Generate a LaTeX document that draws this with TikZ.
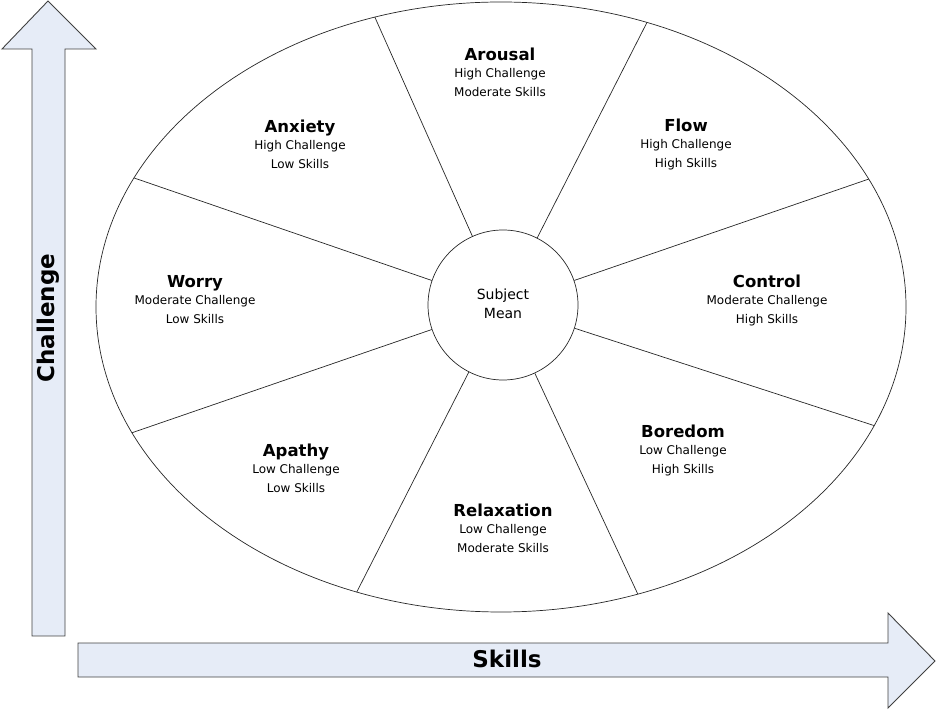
\documentclass[tikz,border=0pt]{standalone}
\usepackage{fontspec}
\setmainfont{DejaVu Sans}
\usepackage{xcolor}
\usepackage{tikz}
\usetikzlibrary{positioning}
\definecolor{arrowfill}{RGB}{230,236,247}
\newcommand{\zonetitle}[1]{{\fontsize{16.5}{19}\selectfont\bfseries #1}\\[-2pt]}

\begin{document}
\begin{tikzpicture}[
  x=1pt,y=1pt,
  bigarrow/.style={draw=black!75, fill=arrowfill, line width=0.9pt},
  axislabel/.style={font=\fontsize{23}{23}\selectfont\bfseries},
  zone/.style={align=center, font=\fontsize{12}{19}\selectfont, inner sep=0pt},
  spoke/.style={draw=black!85, line width=0.7pt}
]
\useasboundingbox (0,0) rectangle (936,709);
\draw[bigarrow] (32,73) -- (32,660) -- (2,660) -- (48,708) -- (96,660) -- (65,660) -- (65,73) -- cycle;
\draw[bigarrow] (78,66) -- (888,66) -- (888,96) -- (935,48) -- (888,1) -- (888,32) -- (78,32) -- cycle;
\node[axislabel, rotate=90] (challenge) at (48,391) {Challenge};
\node[axislabel] (skills) at (507,50) {Skills};

\draw[spoke] (501,402) ellipse (405 and 305);
\node[circle, draw=black!85, line width=0.7pt, minimum size=150pt, align=center,
  font=\fontsize{14}{19}\selectfont] (mean) at (503,404) {\raisebox{2pt}{Subject}\\\raisebox{2pt}{Mean}};
\begin{scope}
\clip (501,402) ellipse (405 and 305);
\draw[spoke] (mean.19) -- ++(19:500);
\draw[spoke] (mean.63) -- ++(63:500);
\draw[spoke] (mean.114) -- ++(114:500);
\draw[spoke] (mean.161) -- ++(161:500);
\draw[spoke] (mean.199) -- ++(199:500);
\draw[spoke] (mean.243) -- ++(243:500);
\draw[spoke] (mean.295) -- ++(295:500);
\draw[spoke] (mean.342) -- ++(342:500);
\end{scope}

\node[zone] (arousal) at (500,637) {\zonetitle{Arousal}High Challenge\\Moderate Skills};
\node[zone] (anxiety) at (300,565) {\zonetitle{Anxiety}High Challenge\\Low Skills};
\node[zone] (flow) at (686,565) {\zonetitle{Flow}High Challenge\\High Skills};
\node[zone] (worry) at (195,409) {\zonetitle{Worry}Moderate Challenge\\Low Skills};
\node[zone] (control) at (767,409) {\zonetitle{Control}Moderate Challenge\\High Skills};
\node[zone] (apathy) at (296,241) {\zonetitle{Apathy}Low Challenge\\Low Skills};
\node[zone] (boredom) at (683,259) {\zonetitle{Boredom}Low Challenge\\High Skills};
\node[zone] (relaxation) at (503,181) {\zonetitle{Relaxation}Low Challenge\\Moderate Skills};
\end{tikzpicture}
\end{document}
